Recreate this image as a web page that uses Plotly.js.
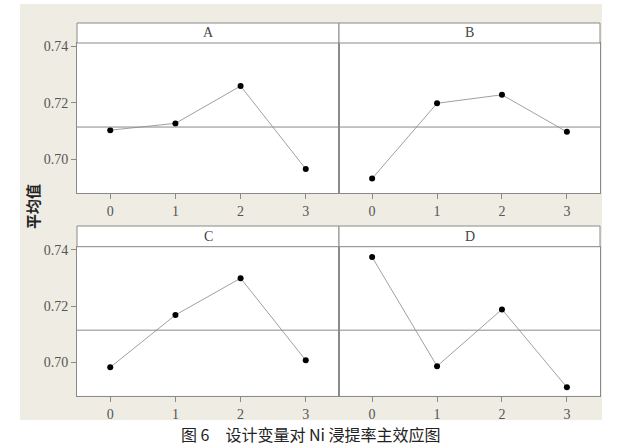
<!DOCTYPE html>
<html>
<head>
<meta charset="utf-8">
<script src="https://cdn.plot.ly/plotly-3.0.1.min.js"></script>
<style>html,body{margin:0;padding:0;background:#fff;}#chart{width:626px;height:446px;}</style>
</head>
<body>
<div id="chart"></div>
<script>
// ---- data ----
const levels = [0, 1, 2, 3];
const levelLabels = ['0', '1', '2', '3'];
const panelNames = ['A', 'B', 'C', 'D'];
const meanA = [0.7103, 0.7127, 0.7259, 0.6966];
const meanB = [0.6932, 0.7198, 0.7228, 0.7097];
const meanC = [0.6982, 0.7168, 0.7299, 0.7007];
const meanD = [0.7374, 0.6986, 0.7188, 0.6911];
const yTickVals = [0.70, 0.72, 0.74];
const yTickText = ['0.70', '0.72', '0.74'];
const yTitle = '平均值';
const caption = '图 6\u3000设计变量对 Ni 浸提率主效应图';

const series = [meanA, meanB, meanC, meanD];
const all = series.flat();
const grandMean = all.reduce((a, b) => a + b, 0) / all.length;

// ---- layout geometry (pixels) ----
const W = 626, H = 446;
const px = v => v / W;
const py = v => 1 - v / H;
const cols = [[77, 339], [339, 600]];
const rows = [{top: 23, strip: 43, bottom: 193}, {top: 226, strip: 246.7, bottom: 395.7}];

const gray = '#8a8a8a';
const tickFont = {family: 'Liberation Serif, serif', size: 14, color: '#555'};
const traces = [];
const layout = {
  width: W, height: H,
  margin: {l: 0, r: 0, t: 0, b: 0},
  paper_bgcolor: '#ffffff',
  plot_bgcolor: '#ffffff',
  showlegend: false,
  shapes: [], annotations: []
};

layout.shapes.push({type: 'rect', xref: 'paper', yref: 'paper', layer: 'below',
  x0: px(20), x1: px(602), y0: py(420), y1: py(4),
  fillcolor: '#efece4', line: {width: 0}});

series.forEach((vals, i) => {
  const r = rows[Math.floor(i / 2)], c = cols[i % 2];
  const n = i + 1;
  const xa = 'xaxis' + (n === 1 ? '' : n), ya = 'yaxis' + (n === 1 ? '' : n);
  const xr = 'x' + (n === 1 ? '' : n), yr = 'y' + (n === 1 ? '' : n);
  traces.push({x: levels, y: vals, xaxis: xr, yaxis: yr, type: 'scatter', mode: 'lines+markers',
    line: {color: '#a0a0a0', width: 1}, marker: {color: '#000', size: 6}, hoverinfo: 'skip'});
  layout[xa] = {domain: [px(c[0]), px(c[1])], range: [-0.51, 3.51], anchor: yr,
    tickvals: levels, ticktext: levelLabels, ticks: 'outside', ticklen: 5, tickcolor: gray,
    showline: true, mirror: true, linecolor: gray, linewidth: 1, showgrid: false, zeroline: false,
    tickfont: tickFont, fixedrange: true};
  layout[ya] = {domain: [py(r.bottom), py(r.strip)], range: [0.6881, 0.7411], anchor: xr,
    tickvals: yTickVals, ticktext: yTickText, ticks: (i % 2 === 0) ? 'outside' : '', ticklen: 5,
    tickcolor: gray, showticklabels: i % 2 === 0,
    showline: true, mirror: true, linecolor: gray, linewidth: 1, showgrid: false, zeroline: false,
    tickfont: tickFont, fixedrange: true};
  // white data area over the beige backdrop
  layout.shapes.push({type: 'rect', xref: 'paper', yref: 'paper', layer: 'below',
    x0: px(c[0]), x1: px(c[1]), y0: py(r.bottom), y1: py(r.strip),
    fillcolor: '#ffffff', line: {width: 0}});
  // grand mean reference line
  layout.shapes.push({type: 'line', xref: xr + ' domain', yref: yr, x0: 0, x1: 1,
    y0: grandMean, y1: grandMean, line: {color: gray, width: 1}});
  // strip
  layout.shapes.push({type: 'rect', xref: 'paper', yref: 'paper',
    x0: px(c[0]), x1: px(c[1]), y0: py(r.strip), y1: py(r.top),
    fillcolor: '#ffffff', line: {color: gray, width: 1}});
  layout.annotations.push({xref: 'paper', yref: 'paper', x: px((c[0] + c[1]) / 2), y: py((r.top + r.strip) / 2),
    text: panelNames[i], showarrow: false, xanchor: 'center', yanchor: 'middle',
    font: {family: 'Liberation Serif, serif', size: 14, color: '#444'}});
});

layout.annotations.push({xref: 'paper', yref: 'paper', x: px(32), y: py(207), text: yTitle,
  textangle: -90, showarrow: false, xanchor: 'center', yanchor: 'middle',
  font: {family: 'Noto Sans CJK SC', size: 15, color: '#222', weight: 700}});
layout.annotations.push({xref: 'paper', yref: 'paper', x: px(311), y: py(434), text: caption,
  showarrow: false, xanchor: 'center', yanchor: 'middle',
  font: {family: 'Noto Sans CJK SC', size: 16, color: '#222'}});

Plotly.newPlot('chart', traces, layout, {staticPlot: true, displayModeBar: false});
</script>
</body>
</html>
